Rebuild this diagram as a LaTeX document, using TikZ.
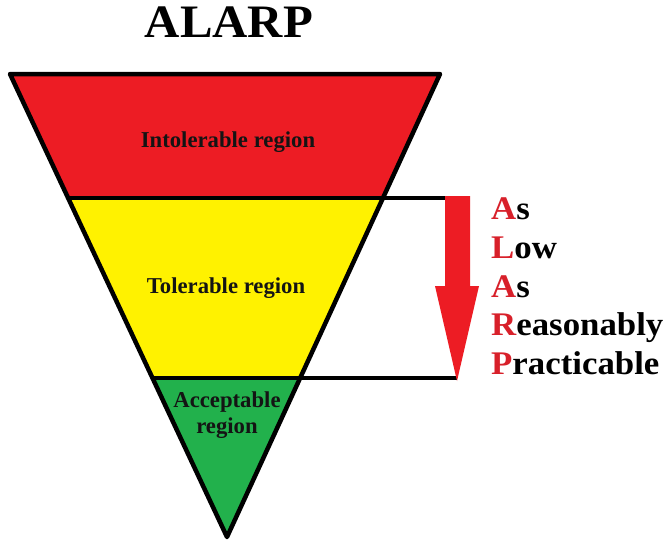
\documentclass[tikz,border=0pt]{standalone}
\usepackage{fontspec}
\setmainfont{Liberation Serif}
\newfontfamily\acrofont[FakeStretch=1.055]{Liberation Serif}
\newfontfamily\titlefont[FakeStretch=1.05]{Liberation Serif}
\definecolor{pred}{HTML}{ED1C24}
\definecolor{pyellow}{HTML}{FFF200}
\definecolor{pgreen}{HTML}{22B14C}
\definecolor{tred}{HTML}{D8202A}
\begin{document}
\begin{tikzpicture}[x=1pt,y=-1pt,
  outline/.style={draw=black,line width=4.5pt,line join=round},
  region/.style={inner sep=0pt,anchor=base,font=\fontsize{22.7}{27}\selectfont\bfseries,text=black!92},
  acro/.style={inner sep=0pt,anchor=base west,font=\acrofont\fontsize{33}{38}\selectfont\bfseries},
  title/.style={inner sep=0pt,anchor=base,font=\titlefont\fontsize{46.5}{50}\selectfont\bfseries}]
\useasboundingbox (0,0) rectangle (664,541);
\fill[white] (0,0) rectangle (664,541);
% geometry
\coordinate (tl) at (10,74);
\coordinate (tr) at (440,74);
\coordinate (tip) at (227,537);
\coordinate (l1) at (68.1,198);
\coordinate (r1) at (383,198);
\coordinate (l2) at (152.5,378);
\coordinate (r2) at (300,378);
\coordinate (a1) at (446,198);
\coordinate (a2) at (457,378);
% regions
\fill[pred] (tl) -- (tr) -- (r1) -- (l1) -- cycle;
\fill[pyellow] (l1) -- (r1) -- (r2) -- (l2) -- cycle;
\fill[pgreen] (l2) -- (r2) -- (tip) -- cycle;
\draw[outline] (tl) -- (tr) -- (tip) -- cycle;
\draw[outline,line width=4pt] (l1) -- (a1);
\draw[outline,line width=4pt] (l2) -- (a2);
% arrow
\coordinate (s1) at (445,196);
\coordinate (s2) at (470,196);
\coordinate (s3) at (470,286);
\coordinate (h1) at (479,286);
\coordinate (ht) at (457,381);
\coordinate (h2) at (435,286);
\coordinate (s4) at (445,286);
\fill[pred] (s1) -- (s2) -- (s3) -- (h1) -- (ht) -- (h2) -- (s4) -- cycle;
% texts
\node[title] (ttl) at (229,37) {ALARP};
\node[region] (intol) at (228,147) {Intolerable region};
\node[region] (tol) at (226,293) {Tolerable region};
\node[region] (acc1) at (227,407) {Acceptable};
\node[region] (acc2) at (227,433) {region};
\node[acro] (w1) at (491,219) {\textcolor{tred}{A}s};
\node[acro] (w2) at (491,258) {\textcolor{tred}{L}ow};
\node[acro] (w3) at (491,297) {\textcolor{tred}{A}s};
\node[acro] (w4) at (491,335) {\textcolor{tred}{R}easonably};
\node[acro] (w5) at (491,374) {\textcolor{tred}{P}racticable};
\end{tikzpicture}
\end{document}
